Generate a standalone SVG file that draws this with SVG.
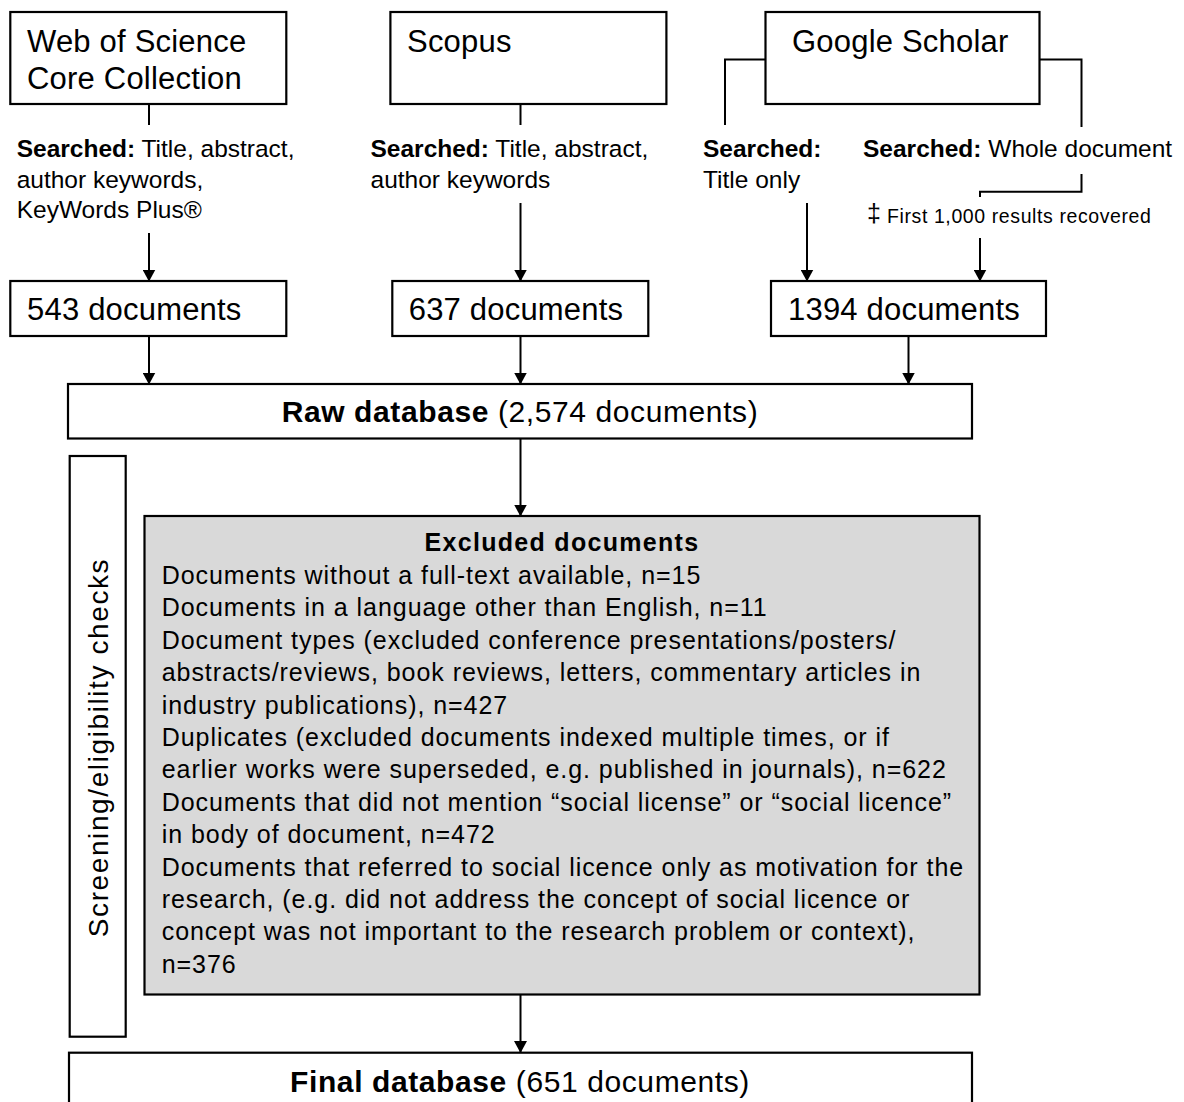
<svg xmlns="http://www.w3.org/2000/svg" width="1184" height="1102" viewBox="0 0 1184 1102">
<style>
  text { font-family: "Liberation Sans", Arial, sans-serif; fill: #000; }
  .box { fill: #fff; stroke: #000; stroke-width: 2.2; }
  .grey { fill: #d9d9d9; stroke: #000; stroke-width: 2.2; }
  .title { font-size: 31px; letter-spacing: 0.2px; }
  .count { font-size: 31px; letter-spacing: 0.2px; }
  .srch { font-size: 24.5px; }
  .b { font-weight: bold; }
  .big { font-size: 30px; letter-spacing: 0.6px; }
  .exc { font-size: 25px; letter-spacing: 0.95px; }
  .side { font-size: 28px; letter-spacing: 1.6px; }
  .small { font-size: 19.5px; letter-spacing: 0.6px; }
  .conn line, .conn polyline { stroke: #000; stroke-width: 2; fill: none; }
</style>
<defs>
  <marker id="arr" viewBox="0 0 12 13" markerWidth="12" markerHeight="13" refX="11" refY="6.5" orient="auto" markerUnits="userSpaceOnUse">
    <path d="M0,0 L12,6.5 L0,13 z" fill="#000"/>
  </marker>
</defs>

<g id="wos">
  <rect class="box" x="10.3" y="12" width="276" height="92"/>
  <text class="title" x="27" y="52">Web of Science</text>
  <text class="title" x="27" y="89">Core Collection</text>
</g>
<g id="wos-search">
  <text class="srch" x="16.7" y="157"><tspan class="b">Searched:</tspan> Title, abstract,</text>
  <text class="srch" x="16.7" y="187.5">author keywords,</text>
  <text class="srch" x="16.7" y="218">KeyWords Plus®</text>
</g>

<g id="scopus">
  <rect class="box" x="390.4" y="12" width="276" height="92"/>
  <text class="title" x="407" y="52">Scopus</text>
</g>
<g id="scopus-search">
  <text class="srch" x="370.5" y="157"><tspan class="b">Searched:</tspan> Title, abstract,</text>
  <text class="srch" x="370.5" y="187.5">author keywords</text>
</g>

<g id="gs">
  <rect class="box" x="765.5" y="12" width="274" height="92"/>
  <text class="title" x="792" y="52">Google Scholar</text>
</g>
<g id="gs-search-title">
  <text class="srch b" x="703" y="157">Searched:</text>
  <text class="srch" x="703" y="187.5">Title only</text>
</g>
<g id="gs-search-whole">
  <text class="srch" x="863" y="157"><tspan class="b">Searched:</tspan> Whole document</text>
</g>
<g id="gs-note">
  <text x="867" y="222" style="font-size:25px">‡</text>
  <text class="small" x="887" y="223">First 1,000 results recovered</text>
</g>

<g id="n543">
  <rect class="box" x="10.3" y="281" width="276" height="55"/>
  <text class="count" x="27" y="320">543 documents</text>
</g>
<g id="n637">
  <rect class="box" x="392.3" y="281" width="256" height="55"/>
  <text class="count" x="408.7" y="320">637 documents</text>
</g>
<g id="n1394">
  <rect class="box" x="771" y="281" width="275" height="55"/>
  <text class="count" x="788" y="320">1394 documents</text>
</g>

<g id="raw">
  <rect class="box" x="68" y="384" width="904" height="54.5"/>
  <text class="big" x="520" y="422" text-anchor="middle"><tspan class="b">Raw database</tspan> (2,574 documents)</text>
</g>

<g id="screening">
  <rect class="box" x="69.7" y="456" width="56" height="580.7"/>
  <text class="side" transform="translate(108,747.5) rotate(-90)" text-anchor="middle">Screening/eligibility checks</text>
</g>

<g id="excluded">
  <rect class="grey" x="144.5" y="516" width="835" height="478.5"/>
  <text class="exc b" x="562" y="551" text-anchor="middle" style="letter-spacing:1.3px">Excluded documents</text>
  <text class="exc" x="161.7" y="584">Documents without a full-text available, n=15</text>
  <text class="exc" x="161.7" y="616.4">Documents in a language other than English, n=11</text>
  <text class="exc" x="161.7" y="648.8">Document types (excluded conference presentations/posters/</text>
  <text class="exc" x="161.7" y="681.2">abstracts/reviews, book reviews, letters, commentary articles in</text>
  <text class="exc" x="161.7" y="713.6">industry publications), n=427</text>
  <text class="exc" x="161.7" y="746">Duplicates (excluded documents indexed multiple times, or if</text>
  <text class="exc" x="161.7" y="778.4">earlier works were superseded, e.g. published in journals), n=622</text>
  <text class="exc" x="161.7" y="810.8">Documents that did not mention “social license” or “social licence”</text>
  <text class="exc" x="161.7" y="843.2">in body of document, n=472</text>
  <text class="exc" x="161.7" y="875.6">Documents that referred to social licence only as motivation for the</text>
  <text class="exc" x="161.7" y="908">research, (e.g. did not address the concept of social licence or</text>
  <text class="exc" x="161.7" y="940.4">concept was not important to the research problem or context),</text>
  <text class="exc" x="161.7" y="972.8">n=376</text>
</g>

<g id="final">
  <rect class="box" x="69" y="1052.7" width="903" height="70"/>
  <text class="big" x="520" y="1091.5" text-anchor="middle"><tspan class="b">Final database</tspan> (651 documents)</text>
</g>

<g id="connectors" class="conn">
  <line x1="149" y1="104" x2="149" y2="125"/>
  <line x1="149" y1="233" x2="149" y2="280.5" marker-end="url(#arr)"/>
  <line x1="520.5" y1="104" x2="520.5" y2="125"/>
  <line x1="520.5" y1="203" x2="520.5" y2="280.5" marker-end="url(#arr)"/>
  <polyline points="765.5,59.5 725,59.5 725,125"/>
  <polyline points="1039.5,59.5 1081.5,59.5 1081.5,127"/>
  <polyline points="1081.5,174 1081.5,191.7 980,191.7 980,197"/>
  <line x1="807" y1="203" x2="807" y2="280.5" marker-end="url(#arr)"/>
  <line x1="980" y1="238" x2="980" y2="280.5" marker-end="url(#arr)"/>
  <line x1="149" y1="336" x2="149" y2="383.5" marker-end="url(#arr)"/>
  <line x1="520.5" y1="336" x2="520.5" y2="383.5" marker-end="url(#arr)"/>
  <line x1="908.5" y1="336" x2="908.5" y2="383.5" marker-end="url(#arr)"/>
  <line x1="520.5" y1="438.5" x2="520.5" y2="515.5" marker-end="url(#arr)"/>
  <line x1="520.5" y1="994.5" x2="520.5" y2="1052" marker-end="url(#arr)"/>
</g>
</svg>
